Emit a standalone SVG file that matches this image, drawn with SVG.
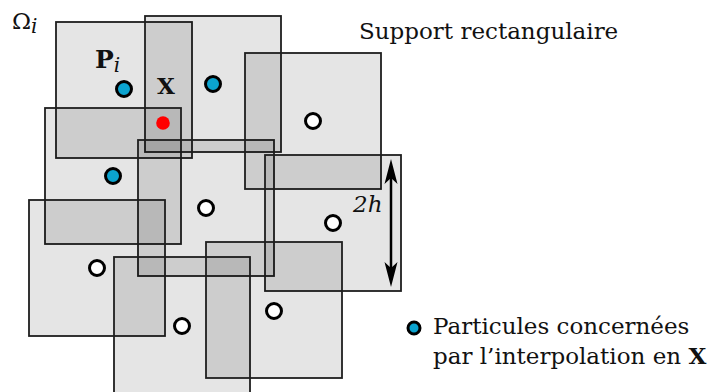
<svg xmlns="http://www.w3.org/2000/svg" width="717" height="392" viewBox="0 0 717 392">
<style>
.sq{fill:#000;fill-opacity:0.1;stroke:#1e1e1e;stroke-width:1.8}
.bl{fill:#0ba3cf;stroke:#000;stroke-width:3}
.wh{fill:#fff;stroke:#000;stroke-width:3}
.t{font-family:"DejaVu Serif","Liberation Serif",serif;font-size:23px;fill:#111}
.b{font-weight:bold}
.it{font-style:italic}
</style>
<rect width="717" height="392" fill="#fff"/>
<g id="supports">
<rect id="sA" class="sq" x="56" y="22" width="136" height="136"/>
<rect id="sB" class="sq" x="145" y="16" width="136" height="136"/>
<rect id="sC" class="sq" x="45" y="108" width="136" height="136"/>
<rect id="sD" class="sq" x="138" y="140" width="136" height="136"/>
<rect id="sE" class="sq" x="245" y="53" width="136" height="136"/>
<rect id="sF" class="sq" x="265" y="155" width="136" height="136"/>
<rect id="sG" class="sq" x="29" y="200" width="136" height="136"/>
<rect id="sH" class="sq" x="114" y="257" width="136" height="136"/>
<rect id="sI" class="sq" x="206" y="242" width="136" height="136"/>
</g>
<g id="particles">
<circle class="bl" cx="124" cy="89" r="7.5"/>
<circle class="bl" cx="213" cy="84" r="7.5"/>
<circle class="bl" cx="113" cy="176" r="7.5"/>
<circle class="wh" cx="313" cy="121" r="7.5"/>
<circle class="wh" cx="206" cy="208" r="7.5"/>
<circle class="wh" cx="97" cy="268" r="7.5"/>
<circle class="wh" cx="182" cy="326" r="7.5"/>
<circle class="wh" cx="274" cy="311" r="7.5"/>
<circle class="wh" cx="333" cy="223" r="7.5"/>
</g>
<g id="pointX">
<circle cx="163" cy="123" r="6.8" fill="#ff0000"/>
<text class="t b" x="157" y="94" font-size="25">X</text>
</g>
<g id="labels">
<text class="t" x="12" y="29" font-size="26">Ω<tspan class="it" font-size="20" dy="4">i</tspan></text>
<text class="t" x="95" y="68"><tspan class="b" font-size="25">P</tspan><tspan class="it" font-size="20" dy="4">i</tspan></text>
<text class="t" x="359" y="39">Support rectangulaire</text>
<text class="t it" x="353" y="212" font-size="22">2h</text>
</g>
<g id="connectors">
<line x1="391" y1="174" x2="391" y2="272" stroke="#000" stroke-width="2.5"/>
<path d="M391,159 L397.5,184 L391,178 L384.5,184 Z" fill="#000"/>
<path d="M391,287 L397.5,262 L391,268 L384.5,262 Z" fill="#000"/>
</g>
<g id="legend">
<circle class="bl" cx="414" cy="328" r="6" stroke-width="2.5"/>
<text class="t" x="433" y="334">Particules concernées</text>
<text class="t" x="433" y="364">par l’interpolation en <tspan class="b">X</tspan></text>
</g>
</svg>
